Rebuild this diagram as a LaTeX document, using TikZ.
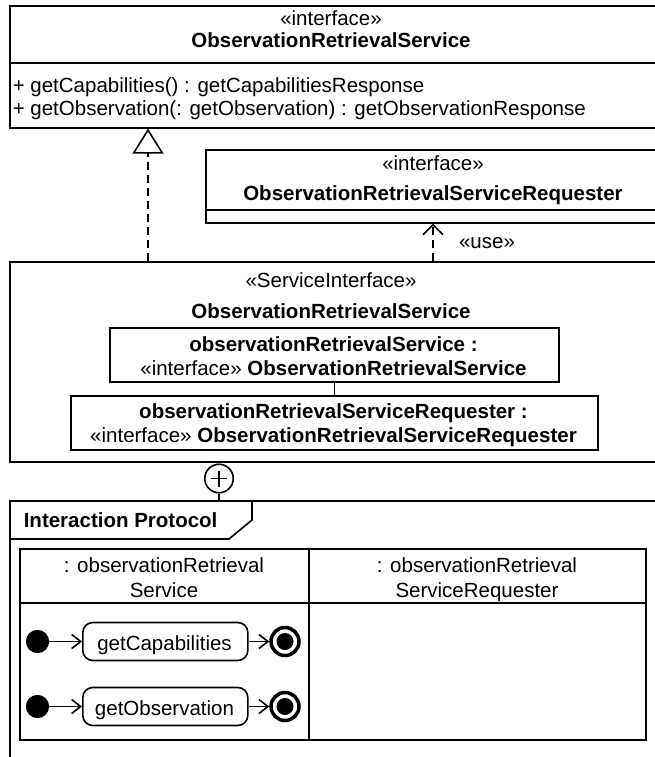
\documentclass[tikz,border=0pt]{standalone}
\usepackage{fontspec}
\setmainfont{Liberation Sans}
\usetikzlibrary{arrows.meta,calc}

\begin{document}
\begin{tikzpicture}[x=1pt,y=-1pt,
  line width=1.6pt,
  every node/.style={font=\fontsize{20.5}{24}\selectfont, inner sep=0pt},
  box/.style={draw, rectangle, anchor=north west},
  lbl/.style={anchor=base},
  lblw/.style={anchor=base west},
  dep/.style={dash pattern=on 8pt off 5pt},
  barb/.style={-{Straight Barb[length=9pt,width=14pt,line width=1.6pt]}},
  usetip/.style={-{Straight Barb[length=10pt,width=20pt,line width=1.6pt]}},
  realize/.style={-{Triangle[open,length=25pt,width=31pt,line width=1.6pt,fill=white]}},
  action/.style={draw, rectangle, rounded corners=10pt, minimum width=165pt, minimum height=38pt, anchor=west},
  initnode/.style={draw, fill=black, circle, minimum size=21.6pt},
  finalring/.style={draw, fill=white, circle, line width=3.5pt, minimum size=28pt},
  finaldot/.style={fill=black, circle, minimum size=17pt},
]
\useasboundingbox (0,0) rectangle (654,757);

% --- interface ObservationRetrievalService ---
\node[box, minimum width=646pt, minimum height=122pt] (iface) at (9,5) {};
\draw (9,63) -- (655,63);
\node[lbl] (ifaceSt) at (331,26) {«interface»};
\node[lbl] (ifaceNm) at (331,48) {\bfseries ObservationRetrievalService};
\node[lblw] (op1) at (12,93) {+ getCapabilities() : getCapabilitiesResponse};
\node[lblw] (op2) at (12,116) {+ getObservation(: getObservation) : getObservationResponse};

% --- interface ObservationRetrievalServiceRequester ---
\node[box, minimum width=456pt, minimum height=73pt] (req) at (205,149) {};
\draw (205,210) -- (661,210);
\node[lbl] (reqSt) at (433,170) {«interface»};
\node[lbl] (reqNm) at (433,200) {\bfseries ObservationRetrievalServiceRequester};

% --- ServiceInterface ---
\node[box, minimum width=646pt, minimum height=200pt] (si) at (9,261) {};
\node[lbl] (siSt) at (331,287) {«ServiceInterface»};
\node[lbl] (siNm) at (331,318) {\bfseries ObservationRetrievalService};

\node[box, minimum width=449pt, minimum height=54pt] (part1) at (109,327) {};
\node[lbl] (p1a) at (333.5,351) {\bfseries observationRetrievalService :};
\node[lbl] (p1b) at (333.5,375) {«interface» \textbf{ObservationRetrievalService}};

\node[box, minimum width=527pt, minimum height=54pt] (part2) at (70,395) {};
\node[lbl] (p2a) at (333.5,418) {\bfseries observationRetrievalServiceRequester :};
\node[lbl] (p2b) at (333.5,442) {«interface» \textbf{ObservationRetrievalServiceRequester}};

\draw (part1.south) -- (part2.north);

% --- realization and usage ---
\coordinate (realFoot) at (148,261);
\draw[dep, realize] (realFoot) -- (realFoot |- iface.south);
\coordinate (useFoot) at (433,261);
\draw[dep, usetip] (useFoot) -- (useFoot |- req.south);
\node[lbl] (useLbl) at (487,248) {«use»};

% --- owned behaviour frame ---
\node[box, minimum width=660pt, minimum height=280pt] (frame) at (9,500) {};
\node[draw, circle, minimum size=28.5pt] (plus) at (219,478.5) {};
\draw[line width=1.8pt] ($(plus.center)+(-8,0)$) -- ($(plus.center)+(8,0)$);
\draw[line width=1.8pt] ($(plus.center)+(0,-8)$) -- ($(plus.center)+(0,8)$);
\draw (plus.south) -- (plus.south |- frame.north);

\draw (252,500) -- (252,520) -- (229,539) -- (9,539);
\node[lblw] (frameNm) at (23,527) {\bfseries Interaction Protocol};

% --- partition table ---
\node[box, minimum width=626pt, minimum height=191pt] (tbl) at (19,548) {};
\draw (19,603) -- (645,603);
\draw (309,548) -- (309,739);
\node[lbl] (h1a) at (164,572) {: observationRetrieval};
\node[lbl] (h1b) at (164,597) {Service};
\node[lbl] (h2a) at (477,572) {: observationRetrieval};
\node[lbl] (h2b) at (477,597) {ServiceRequester};

% --- activity: getCapabilities ---
\node[initnode] (i1) at (37.5,641.5) {};
\node[action] (a1) at (82,641.5) {};
\node[lbl] (a1t) at (164.5,650) {getCapabilities};
\node[finalring] (f1) at (285,641.5) {};
\node[finaldot] (f1d) at (f1.center) {};
\draw[barb] (i1) -- (a1);
\draw[barb] (a1) -- (f1);

% --- activity: getObservation ---
\node[initnode] (i2) at (37.5,706.5) {};
\node[action] (a2) at (82,706.5) {};
\node[lbl] (a2t) at (164.5,715) {getObservation};
\node[finalring] (f2) at (285,706.5) {};
\node[finaldot] (f2d) at (f2.center) {};
\draw[barb] (i2) -- (a2);
\draw[barb] (a2) -- (f2);
\end{tikzpicture}
\end{document}
